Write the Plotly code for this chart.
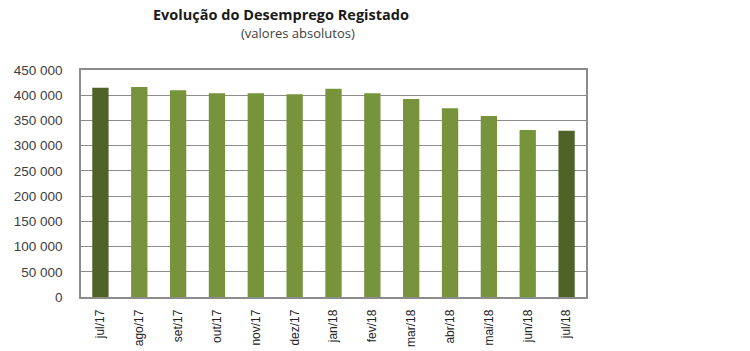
import plotly.graph_objects as go

categories = ["jul/17", "ago/17", "set/17", "out/17", "nov/17", "dez/17",
              "jan/18", "fev/18", "mar/18", "abr/18", "mai/18", "jun/18", "jul/18"]
values = [414900, 416300, 409700, 403700, 403700, 401800,
          412900, 403700, 392400, 374000, 358700, 330900, 329500]
highlight = [True, False, False, False, False, False,
             False, False, False, False, False, False, True]

dark = "#4F6228"
light = "#77933C"
colors = [dark if h else light for h in highlight]

fig = go.Figure(go.Bar(x=categories, y=values, marker_color=colors,
                       marker_line_width=0, width=0.42))

L, R, T, B = 81, 164, 70, 54
fig.update_layout(
    width=750, height=351,
    margin=dict(l=L, r=R, t=T, b=B, autoexpand=False),
    paper_bgcolor="white", plot_bgcolor="white",
    separators=", ",
    showlegend=False,
    annotations=[
        dict(text="<b>Evolução do Desemprego Registado</b>", x=281, y=14,
             showarrow=False,
             font=dict(family="Open Sans, sans-serif", size=14.5, color="#1a1a1a")),
        dict(text="(valores absolutos)", x=298, y=33,
             showarrow=False,
             font=dict(family="Open Sans, sans-serif", size=13, color="#404040")),
    ],
)
pw = 750 - L - R
ph = 351 - T - B
for a in fig.layout.annotations:
    px, py = a.x, a.y
    a.xref = "paper"
    a.yref = "paper"
    a.x = (px - L) / pw
    a.y = 1 + (T - py) / ph
    a.xanchor = "center"
    a.yanchor = "middle"

fig.update_yaxes(range=[0, 450000], dtick=50000, tickformat=",d",
                 showgrid=True, gridcolor="#8c8c8c", gridwidth=1.2,
                 showline=True, linecolor="#8c8c8c", linewidth=1.5, mirror=True,
                 ticks="", ticklabelstandoff=14, zeroline=False, automargin=False,
                 tickfont=dict(family="Liberation Sans, Arial", size=13.5, color="#404040"))
fig.update_xaxes(showline=True, linecolor="#8c8c8c", linewidth=1.5, mirror=True,
                 tickangle=-90, ticks="", ticklabelstandoff=6, automargin=False,
                 tickfont=dict(family="Liberation Sans, Arial", size=12, color="#222222"))

fig.write_html("out.html")
